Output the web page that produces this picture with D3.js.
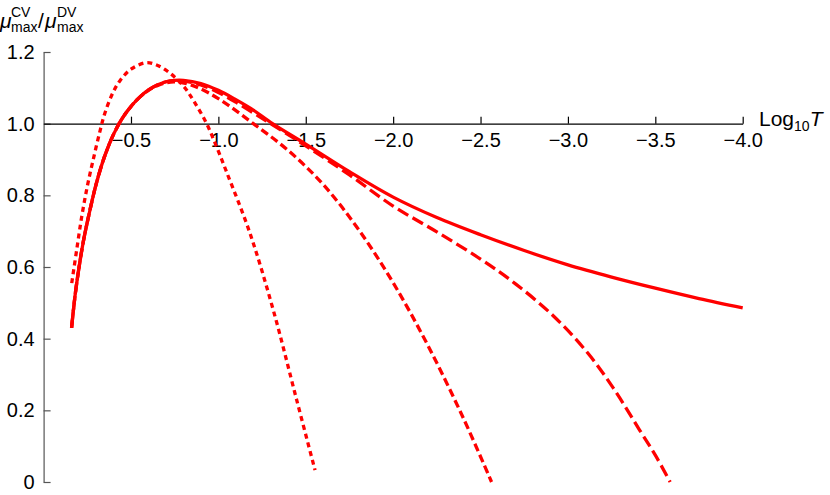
<!DOCTYPE html>
<html>
<head>
<meta charset="utf-8">
<script src="https://cdn.jsdelivr.net/npm/d3@7"></script>
<style>
  body { margin: 0; background: #fff; }
  svg { display: block; }
  text { font-family: "Liberation Sans", Arial, sans-serif; }
</style>
</head>
<body>
<svg id="chart" width="830" height="495"></svg>
<script>
// tick values
const xTickValues = [-0.5, -1.0, -1.5, -2.0, -2.5, -3.0, -3.5, -4.0];
const yTickValues = [0, 0.2, 0.4, 0.6, 0.8, 1.0, 1.2];

// curves: [log10 T, mu_CV / mu_DV]
const solidCurve = [
  [-0.16, 0.43], [-0.18, 0.52], [-0.2, 0.59], [-0.225, 0.665], [-0.25, 0.725],
  [-0.3, 0.83], [-0.35, 0.91], [-0.4, 0.97], [-0.45, 1.015], [-0.5, 1.048],
  [-0.55, 1.074], [-0.6, 1.094], [-0.65, 1.108], [-0.7, 1.117], [-0.75, 1.121],
  [-0.8, 1.121], [-0.9, 1.112], [-1.0, 1.093], [-1.1, 1.067], [-1.2, 1.038],
  [-1.31, 1.0], [-1.5, 0.943], [-1.75, 0.866], [-2.0, 0.795], [-2.25, 0.738],
  [-2.5, 0.69], [-2.75, 0.646], [-3.0, 0.606], [-3.25, 0.572], [-3.5, 0.541],
  [-3.75, 0.512], [-4.0, 0.486]
];
const dashedCurve = [
  [-0.16, 0.43], [-0.18, 0.52], [-0.2, 0.59], [-0.225, 0.665], [-0.25, 0.725],
  [-0.3, 0.83], [-0.35, 0.91], [-0.4, 0.97], [-0.45, 1.015], [-0.5, 1.048],
  [-0.55, 1.074], [-0.6, 1.094], [-0.65, 1.108], [-0.7, 1.117], [-0.75, 1.12],
  [-0.8, 1.119], [-0.9, 1.108], [-1.0, 1.087], [-1.1, 1.06], [-1.2, 1.03],
  [-1.3, 1.0], [-1.5, 0.938], [-1.75, 0.857], [-2.0, 0.77], [-2.25, 0.698],
  [-2.5, 0.622], [-2.7, 0.553], [-2.92, 0.462], [-3.11, 0.362], [-3.26, 0.262],
  [-3.41, 0.145], [-3.5, 0.075], [-3.585, 0.0]
];
const dashDotCurve = [
  [-0.16, 0.43], [-0.18, 0.52], [-0.2, 0.59], [-0.225, 0.665], [-0.25, 0.725],
  [-0.3, 0.83], [-0.35, 0.91], [-0.4, 0.97], [-0.45, 1.015], [-0.5, 1.048],
  [-0.55, 1.074], [-0.6, 1.093], [-0.65, 1.106], [-0.7, 1.114], [-0.75, 1.117],
  [-0.85, 1.107], [-1.0, 1.07], [-1.2, 1.0], [-1.4, 0.925], [-1.6, 0.83],
  [-1.8, 0.706], [-2.0, 0.556], [-2.2, 0.38], [-2.4, 0.18], [-2.563, 0.0]
];
const dottedCurve = [
  [-0.161, 0.555], [-0.19, 0.65], [-0.218, 0.74], [-0.25, 0.825], [-0.284, 0.9],
  [-0.323, 0.98], [-0.351, 1.03], [-0.4, 1.09], [-0.437, 1.12], [-0.5, 1.152],
  [-0.586, 1.17], [-0.65, 1.163], [-0.723, 1.141], [-0.8, 1.105], [-0.857, 1.065],
  [-0.933, 1.0], [-0.99, 0.935], [-1.047, 0.865], [-1.181, 0.694], [-1.314, 0.48],
  [-1.448, 0.229], [-1.553, 0.033]
];

const svg = d3.select('#chart');

const x = d3.scaleLinear().domain([0, -4]).range([43.6, 742.7]);
const y = d3.scaleLinear().domain([0, 1.2]).range([482, 52]);

// y axis (ticks point inward)
const yAxis = svg.append('g')
  .attr('transform', `translate(${x(0)},0)`)
  .call(d3.axisLeft(y)
    .tickValues(yTickValues)
    .tickSize(-7)
    .tickSizeOuter(0)
    .tickPadding(9)
    .tickFormat(d => d === 0 ? '0' : d3.format('.1f')(d)));
yAxis.selectAll('path, line').attr('stroke', '#555').attr('stroke-width', 1.2);
yAxis.selectAll('text').attr('font-size', 20).attr('fill', '#000')
  .attr('font-family', '"Liberation Sans", Arial, sans-serif');

// x axis sits on the 1.0 line
const xAxis = svg.append('g')
  .attr('transform', `translate(0,${y(1.0)})`)
  .call(d3.axisBottom(x)
    .tickValues(xTickValues)
    .tickSize(-7)
    .tickSizeOuter(0)
    .tickPadding(9)
    .tickFormat(d => d3.format('.1f')(d).replace('-', '\u2212')));
xAxis.selectAll('path, line').attr('stroke', '#000').attr('stroke-width', 1.2);
xAxis.selectAll('text').attr('font-size', 20).attr('fill', '#000')
  .attr('font-family', '"Liberation Sans", Arial, sans-serif');

// curves
const line = d3.line()
  .x(d => x(d[0]))
  .y(d => y(d[1]))
  .curve(d3.curveCatmullRom.alpha(0.5));

const series = [
  { data: solidCurve, dash: null },
  { data: dashedCurve, dash: '12,5' },
  { data: dashDotCurve, dash: '8,4' },
  { data: dottedCurve, dash: '5,4' }
];

svg.append('g')
  .selectAll('path')
  .data(series)
  .enter().append('path')
  .attr('d', d => line(d.data))
  .attr('fill', 'none')
  .attr('stroke', '#ff0000')
  .attr('stroke-width', 3.3)
  .attr('stroke-dasharray', d => d.dash);

// axis labels
const xLab = svg.append('text')
  .attr('x', 759).attr('y', 126)
  .attr('font-size', 21);
xLab.append('tspan').text('Log');
xLab.append('tspan').attr('font-size', 14).attr('dy', 5).text('10');
xLab.append('tspan').attr('dy', -5).attr('font-style', 'italic').text('T');

const yLab = svg.append('g');
yLab.append('text').attr('x', 0).attr('y', 28).attr('font-size', 21)
  .attr('font-style', 'italic').text('\u03bc');
yLab.append('text').attr('x', 11).attr('y', 17).attr('font-size', 14).text('CV');
yLab.append('text').attr('x', 11).attr('y', 32).attr('font-size', 14).text('max');
yLab.append('text').attr('x', 38).attr('y', 28).attr('font-size', 21).text('/');
yLab.append('text').attr('x', 45).attr('y', 28).attr('font-size', 21)
  .attr('font-style', 'italic').text('\u03bc');
yLab.append('text').attr('x', 57).attr('y', 17).attr('font-size', 14).text('DV');
yLab.append('text').attr('x', 57).attr('y', 32).attr('font-size', 14).text('max');
</script>
</body>
</html>
